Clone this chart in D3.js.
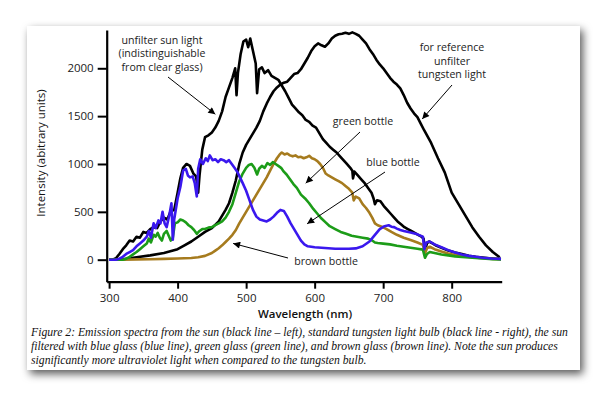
<!DOCTYPE html>
<html>
<head>
<meta charset="utf-8">
<script src="https://cdn.jsdelivr.net/npm/d3@7"></script>
<style>
  body { margin: 0; background: #fff; }
  svg { display: block; }
</style>
</head>
<body>
<div id="chart"></div>
<script>
// spectra, [wavelength nm, intensity]
var sunLight = [[300,0],[305,0],[310,15],[315,60],[320,110],[325,150],[330,200],[335,190],[340,240],[345,230],[350,290],[355,280],[360,320],[365,340],[370,330],[375,400],[380,440],[385,420],[390,510],[395,520],[400,700],[404,850],[408,960],[413,1000],[418,980],[423,900],[427,870],[430,700],[432,880],[436,1150],[440,1280],[445,1300],[450,1330],[455,1380],[460,1450],[465,1550],[470,1700],[475,1800],[480,1900],[484,2000],[486,1720],[488,1950],[492,2150],[496,2280],[500,2300],[503,2220],[506,2310],[510,2180],[514,2050],[516,1740],[519,1990],[523,2010],[527,1950],[532,1980],[537,1920],[542,1900],[547,1880],[552,1820],[557,1760],[562,1690],[567,1620],[572,1580],[577,1540],[582,1510],[587,1460],[592,1440],[597,1400],[602,1380],[607,1320],[612,1260],[617,1220],[622,1180],[627,1150],[632,1120],[637,1080],[642,1040],[647,1000],[652,960],[655,930],[656,850],[658,920],[663,880],[668,840],[673,800],[678,750],[683,700],[686,640],[688,580],[691,620],[696,610],[701,560],[706,520],[711,480],[716,440],[721,400],[726,370],[731,340],[736,320],[741,300],[746,280],[751,260],[756,240],[759,220],[761,100],[764,170],[767,190],[772,170],[778,145],[785,125],[795,95],[805,75],[815,58],[825,42],[835,30],[845,22],[855,15],[865,10],[872,8]];

var tungsten = [[300,0],[320,5],[340,25],[360,45],[380,70],[400,110],[410,150],[420,190],[430,240],[440,290],[450,330],[460,400],[470,520],[475,590],[480,700],[485,830],[490,1000],[495,1120],[500,1200],[505,1260],[510,1320],[515,1380],[520,1450],[525,1550],[530,1630],[535,1700],[540,1760],[545,1800],[550,1830],[555,1850],[560,1860],[565,1900],[570,1940],[575,1950],[580,1990],[585,2050],[590,2110],[595,2180],[600,2230],[605,2260],[610,2240],[615,2225],[620,2260],[625,2310],[630,2340],[635,2355],[640,2360],[645,2370],[650,2360],[655,2375],[660,2360],[665,2340],[670,2300],[675,2260],[680,2200],[685,2150],[690,2090],[695,2040],[700,2000],[705,1950],[710,1900],[715,1860],[720,1830],[725,1790],[730,1720],[735,1640],[740,1580],[745,1530],[750,1490],[755,1420],[760,1350],[770,1220],[780,1060],[790,910],[800,700],[810,580],[820,460],[830,340],[840,240],[850,150],[860,80],[870,25]];

var blueBottle = [[300,0],[310,0],[315,10],[320,30],[325,60],[330,80],[335,100],[340,140],[345,170],[350,200],[355,240],[358,300],[361,230],[365,380],[368,330],[372,410],[375,380],[378,500],[381,380],[384,340],[388,470],[391,590],[393,210],[395,420],[400,640],[404,760],[408,930],[412,950],[415,880],[418,860],[422,870],[425,800],[428,660],[430,950],[433,1050],[437,1000],[441,1060],[444,1030],[447,1090],[451,1040],[455,1050],[459,1020],[463,1050],[467,1040],[471,1020],[475,1040],[479,1000],[483,960],[487,920],[491,860],[495,800],[500,720],[505,620],[510,520],[515,450],[520,420],[525,410],[530,400],[535,420],[540,450],[545,490],[550,520],[555,510],[560,450],[565,380],[570,320],[575,260],[580,200],[585,160],[590,140],[600,130],[610,125],[620,120],[630,115],[640,115],[650,115],[660,118],[670,140],[680,190],[688,260],[695,320],[702,350],[708,360],[712,345],[716,340],[720,325],[725,310],[730,300],[740,285],[750,265],[758,240],[760,110],[763,180],[768,190],[775,160],[785,130],[795,100],[805,75],[815,55],[825,40],[835,30],[845,20],[858,12],[872,8]];

var greenBottle = [[300,0],[320,0],[325,10],[330,30],[335,55],[340,80],[345,110],[350,140],[355,170],[358,220],[361,180],[365,260],[368,240],[371,280],[374,230],[377,200],[380,270],[384,300],[387,250],[390,200],[393,230],[396,380],[400,390],[404,420],[408,410],[412,390],[416,360],[420,340],[424,310],[428,270],[432,300],[436,320],[440,320],[445,335],[450,340],[455,360],[460,380],[465,400],[470,440],[475,500],[480,580],[485,700],[490,820],[495,900],[500,960],[504,990],[508,1000],[512,960],[516,890],[519,950],[523,980],[527,960],[531,1010],[535,990],[539,1020],[543,1000],[547,980],[551,960],[555,920],[559,890],[564,840],[569,790],[574,750],[580,680],[586,640],[592,590],[598,530],[604,480],[610,430],[616,390],[622,350],[630,320],[638,290],[646,270],[654,250],[662,240],[670,230],[678,220],[684,200],[688,180],[692,175],[700,168],[710,160],[720,145],[730,135],[740,125],[750,115],[758,105],[761,20],[764,60],[768,80],[775,70],[785,55],[795,45],[805,35],[815,28],[830,20],[845,12],[860,6],[872,3]];

var brownBottle = [[300,0],[320,0],[340,3],[360,5],[380,8],[400,12],[410,15],[420,18],[430,25],[440,40],[450,70],[455,95],[460,120],[465,150],[470,185],[475,220],[480,260],[485,310],[490,380],[495,440],[500,500],[505,560],[510,620],[515,680],[520,740],[525,800],[530,860],[535,930],[540,1000],[545,1060],[549,1100],[552,1120],[556,1100],[560,1110],[564,1090],[568,1080],[572,1090],[576,1070],[580,1075],[584,1060],[588,1070],[592,1085],[596,1060],[600,1050],[604,1030],[608,1000],[612,960],[616,900],[620,880],[625,860],[630,840],[635,820],[640,800],[645,770],[650,740],[655,700],[657,620],[660,660],[665,640],[670,580],[675,540],[680,490],[684,440],[688,380],[692,360],[698,345],[705,320],[712,290],[720,260],[730,230],[740,205],[750,180],[758,155],[761,65],[764,120],[768,135],[775,110],[785,85],[795,65],[805,50],[815,38],[830,25],[845,15],[860,8],[872,5]];

var xTicks = [300, 400, 500, 600, 700, 800];
var yTicks = [0, 500, 1000, 1500, 2000];

// callouts: text lines and the point the arrow reaches (in data units)
var notes = [
  { lines: ["unfilter sun light", "(indistinguishable", "from clear glass)"], tip: [455, 1520] },
  { lines: ["for reference", "unfilter", "tungsten light"], tip: [757, 1470] },
  { lines: ["green bottle"], tip: [587, 800] },
  { lines: ["blue bottle"], tip: [589, 375] },
  { lines: ["brown bottle"], tip: [481, 170] }
];

var caption = [
  "Figure 2: Emission spectra from the sun (black line \u2013 left), standard tungsten light bulb (black line - right), the sun",
  "filtered with blue glass (blue line), green glass (green line), and brown glass (brown line). Note the sun produces",
  "significantly more ultraviolet light when compared to the tungsten bulb."
];

var W = 600, H = 398;
var font = "'Open Sans', 'Noto Sans', sans-serif";

var svg = d3.select("#chart").append("svg")
  .attr("width", W)
  .attr("height", H);

// drop shadow for the paper card
var defs = svg.append("defs");
var f = defs.append("filter").attr("id", "shadow")
  .attr("x", "-10%").attr("y", "-10%").attr("width", "120%").attr("height", "125%");
f.append("feDropShadow")
  .attr("dx", 3).attr("dy", 4)
  .attr("stdDeviation", 4)
  .attr("flood-color", "#000")
  .attr("flood-opacity", 0.65);

defs.append("marker")
  .attr("id", "arrow")
  .attr("viewBox", "0 0 10 10")
  .attr("refX", 10).attr("refY", 5)
  .attr("markerWidth", 9).attr("markerHeight", 7)
  .attr("markerUnits", "userSpaceOnUse")
  .attr("orient", "auto")
  .append("path")
    .attr("d", "M0,0 L10,5 L0,10 z")
    .attr("fill", "#000");

svg.append("rect")
  .attr("x", 27).attr("y", 26)
  .attr("width", 553).attr("height", 344)
  .attr("fill", "#fff")
  .attr("filter", "url(#shadow)");

// scales
var x = d3.scaleLinear().domain([296.5, 873]).range([106.7, 501.7]);
var y = d3.scaleLinear().domain([-230, 2400]).range([281.7, 30]);

var line = d3.line()
  .x(function(d) { return x(d[0]); })
  .y(function(d) { return y(d[1]); });

var series = [
  { data: sunLight, color: "#000" },
  { data: tungsten, color: "#000" },
  { data: brownBottle, color: "#a67b1e" },
  { data: greenBottle, color: "#1c9c18" },
  { data: blueBottle, color: "#3a18ee" }
];

svg.append("g").selectAll("path")
  .data(series)
  .enter().append("path")
    .attr("fill", "none")
    .attr("stroke", function(d) { return d.color; })
    .attr("stroke-width", 2.6)
    .attr("stroke-linejoin", "round")
    .attr("d", function(d) { return line(d.data); });

// axes
var xAxis = svg.append("g")
  .attr("transform", "translate(0," + y(-230) + ")")
  .call(d3.axisBottom(x).tickValues(xTicks).tickFormat(d3.format("d"))
    .tickSize(7).tickSizeOuter(0).tickPadding(5));
var yAxis = svg.append("g")
  .attr("transform", "translate(" + x(296.5) + ",0)")
  .call(d3.axisLeft(y).tickValues(yTicks).tickFormat(d3.format("d"))
    .tickSize(9).tickSizeOuter(0).tickPadding(4));

[xAxis, yAxis].forEach(function(a) {
  a.select(".domain").attr("stroke", "#000").attr("stroke-width", 2.2);
  a.selectAll(".tick line").attr("stroke", "#000").attr("stroke-width", 2);
  a.selectAll(".tick text")
    .attr("fill", "#222")
    .style("font-family", font)
    .style("font-size", "11.5px");
});

// axis titles
svg.append("text")
  .attr("x", 305).attr("y", 318)
  .attr("text-anchor", "middle")
  .style("font-family", font)
  .style("font-size", "11.5px")
  .style("font-weight", 600)
  .attr("fill", "#111")
  .text("Wavelength (nm)");

svg.append("text")
  .attr("transform", "translate(45,153) rotate(-90)")
  .attr("text-anchor", "middle")
  .style("font-family", font)
  .style("font-size", "11.5px")
  .attr("fill", "#111")
  .text("Intensity (abitrary units)");

// callout text positions in pixels, arrow start in pixels
var notePos = [
  { x: 162, y: 43.5, from: [168, 77] },
  { x: 452, y: 51, from: [452, 85] },
  { x: 363, y: 125, from: [360, 132] },
  { x: 393, y: 166, from: [385, 172] },
  { x: 326, y: 265, from: [288, 258] }
];

notes.forEach(function(n, i) {
  var p = notePos[i];
  var t = svg.append("text")
    .attr("text-anchor", "middle")
    .style("font-family", font)
    .style("font-size", "10.6px")
    .attr("fill", "#222");
  n.lines.forEach(function(s, j) {
    t.append("tspan").attr("x", p.x).attr("y", p.y + j * 13.6).text(s);
  });
  svg.append("line")
    .attr("x1", p.from[0]).attr("y1", p.from[1])
    .attr("x2", x(n.tip[0])).attr("y2", y(n.tip[1]))
    .attr("stroke", "#000")
    .attr("stroke-width", 1)
    .attr("marker-end", "url(#arrow)");
});

// figure caption
svg.append("g").selectAll("text")
  .data(caption)
  .enter().append("text")
    .attr("x", 31)
    .attr("y", function(d, i) { return 336 + i * 14; })
    .style("font-family", "'Liberation Serif', 'Times New Roman', serif")
    .style("font-style", "italic")
    .style("font-size", "11.7px")
    .attr("fill", "#111")
    .text(function(d) { return d; });
</script>
</body>
</html>
